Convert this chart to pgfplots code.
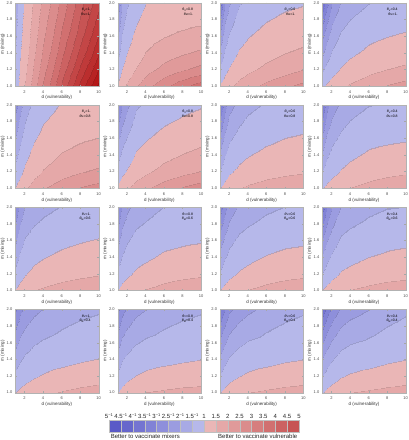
\documentclass[border=0pt]{standalone}
\usepackage{fontspec}
\setmainfont{Liberation Sans}
\usepackage{pgfplots}
\usepackage{pgfplotstable}
\pgfplotsset{compat=1.18}

% ln(ratio) on a grid d x m for the 16 panels (pij: row i = theta_M, column j = theta_V)
\pgfplotstableread{
d m p11 p12 p13 p14 p21 p22 p23 p24 p31 p32 p33 p34 p41 p42 p43 p44
1 1 -0.26 0.08 0.05 -0.09 0.00 0.09 0.00 -0.03 0.00 0.00 0.00 0.00 0.00 0.00 0.00 -0.02
1.5 1 0.14 0.30 0.22 0.07 0.20 0.26 0.15 0.10 0.15 0.13 0.13 0.13 0.10 0.13 0.13 0.11
2 1 0.43 0.46 0.34 0.18 0.36 0.38 0.26 0.19 0.26 0.23 0.22 0.22 0.17 0.22 0.21 0.20
3 1 0.84 0.68 0.51 0.33 0.55 0.54 0.39 0.32 0.39 0.35 0.34 0.34 0.27 0.34 0.34 0.33
4 1 1.12 0.84 0.61 0.45 0.67 0.66 0.46 0.41 0.45 0.42 0.41 0.41 0.34 0.42 0.41 0.41
6 1 1.53 1.06 0.76 0.60 0.83 0.82 0.55 0.52 0.55 0.52 0.51 0.49 0.44 0.47 0.47 0.47
8 1 1.82 1.22 0.88 0.71 0.93 0.94 0.61 0.61 0.61 0.60 0.59 0.56 0.51 0.51 0.52 0.52
10 1 2.04 1.34 0.98 0.80 1.00 1.03 0.65 0.68 0.66 0.65 0.64 0.60 0.56 0.53 0.55 0.56
1 1.2 -0.36 -0.27 -0.36 -0.48 -0.31 -0.28 -0.38 -0.41 -0.33 -0.33 -0.36 -0.41 -0.34 -0.34 -0.38 -0.43
1.5 1.2 0.05 0.00 -0.12 -0.30 -0.10 -0.09 -0.19 -0.22 -0.15 -0.18 -0.21 -0.24 -0.22 -0.21 -0.24 -0.28
2 1.2 0.34 0.19 0.02 -0.15 0.09 0.04 -0.05 -0.11 -0.02 -0.07 -0.10 -0.12 -0.14 -0.11 -0.14 -0.18
3 1.2 0.74 0.42 0.23 0.03 0.29 0.24 0.09 0.03 0.10 0.06 0.04 0.04 -0.04 0.01 -0.01 -0.03
4 1.2 1.03 0.59 0.33 0.14 0.43 0.36 0.18 0.12 0.17 0.14 0.11 0.10 0.03 0.08 0.06 0.04
6 1.2 1.44 0.77 0.48 0.30 0.59 0.52 0.28 0.24 0.27 0.25 0.22 0.20 0.13 0.15 0.14 0.12
8 1.2 1.72 0.89 0.59 0.40 0.68 0.63 0.34 0.31 0.33 0.31 0.29 0.26 0.20 0.20 0.21 0.19
10 1.2 1.95 0.98 0.68 0.47 0.74 0.71 0.38 0.36 0.38 0.35 0.33 0.30 0.26 0.24 0.25 0.25
1 1.4 -0.44 -0.51 -0.64 -0.75 -0.52 -0.53 -0.64 -0.67 -0.56 -0.56 -0.60 -0.68 -0.58 -0.58 -0.64 -0.70
1.5 1.4 -0.03 -0.20 -0.35 -0.55 -0.30 -0.33 -0.42 -0.44 -0.35 -0.39 -0.43 -0.49 -0.44 -0.43 -0.49 -0.54
2 1.4 0.26 0.00 -0.19 -0.37 -0.10 -0.19 -0.27 -0.31 -0.22 -0.27 -0.31 -0.35 -0.35 -0.34 -0.38 -0.43
3 1.4 0.66 0.24 0.04 -0.18 0.12 0.04 -0.11 -0.16 -0.09 -0.13 -0.16 -0.17 -0.25 -0.22 -0.25 -0.28
4 1.4 0.95 0.42 0.14 -0.07 0.26 0.15 -0.02 -0.07 -0.02 -0.06 -0.09 -0.10 -0.18 -0.15 -0.17 -0.21
6 1.4 1.36 0.57 0.29 0.09 0.43 0.31 0.09 0.06 0.08 0.06 0.02 0.00 -0.12 -0.10 -0.12 -0.15
8 1.4 1.64 0.67 0.40 0.18 0.51 0.42 0.16 0.11 0.14 0.11 0.09 0.06 -0.05 -0.05 -0.05 -0.07
10 1.4 1.87 0.74 0.47 0.25 0.57 0.50 0.20 0.15 0.19 0.15 0.12 0.10 0.01 -0.01 -0.01 -0.01
1 1.6 -0.51 -0.73 -0.88 -0.98 -0.70 -0.76 -0.87 -0.90 -0.76 -0.76 -0.82 -0.93 -0.78 -0.78 -0.87 -0.95
1.5 1.6 -0.10 -0.38 -0.55 -0.76 -0.48 -0.54 -0.63 -0.64 -0.53 -0.57 -0.63 -0.71 -0.63 -0.63 -0.71 -0.78
2 1.6 0.19 -0.16 -0.38 -0.57 -0.26 -0.39 -0.46 -0.49 -0.38 -0.44 -0.50 -0.56 -0.54 -0.54 -0.59 -0.66
3 1.6 0.59 0.09 -0.13 -0.36 -0.04 -0.14 -0.29 -0.34 -0.26 -0.30 -0.34 -0.36 -0.43 -0.42 -0.46 -0.50
4 1.6 0.88 0.27 -0.02 -0.25 0.11 -0.03 -0.19 -0.24 -0.19 -0.22 -0.27 -0.28 -0.37 -0.35 -0.38 -0.42
6 1.6 1.29 0.39 0.13 -0.09 0.28 0.12 -0.08 -0.11 -0.09 -0.11 -0.16 -0.18 -0.29 -0.28 -0.31 -0.35
8 1.6 1.57 0.47 0.23 -0.01 0.36 0.23 0.00 -0.07 -0.03 -0.06 -0.09 -0.11 -0.22 -0.22 -0.23 -0.26
10 1.6 1.80 0.53 0.29 0.05 0.41 0.31 0.04 -0.04 0.02 -0.03 -0.06 -0.08 -0.16 -0.17 -0.17 -0.17
1 1.8 -0.57 -0.92 -1.11 -1.20 -0.87 -0.96 -1.08 -1.10 -0.94 -0.95 -1.02 -1.15 -0.97 -0.97 -1.07 -1.17
1.5 1.8 -0.16 -0.54 -0.74 -0.96 -0.64 -0.74 -0.81 -0.81 -0.70 -0.74 -0.81 -0.91 -0.81 -0.82 -0.91 -0.99
2 1.8 0.13 -0.31 -0.56 -0.75 -0.41 -0.58 -0.63 -0.66 -0.54 -0.60 -0.67 -0.74 -0.71 -0.72 -0.78 -0.87
3 1.8 0.53 -0.06 -0.29 -0.52 -0.18 -0.30 -0.45 -0.49 -0.42 -0.45 -0.50 -0.52 -0.60 -0.60 -0.65 -0.70
4 1.8 0.82 0.13 -0.18 -0.41 -0.02 -0.19 -0.34 -0.39 -0.35 -0.38 -0.43 -0.45 -0.53 -0.53 -0.57 -0.62
6 1.8 1.22 0.23 -0.03 -0.25 0.15 -0.04 -0.23 -0.26 -0.25 -0.26 -0.32 -0.34 -0.43 -0.43 -0.46 -0.52
8 1.8 1.51 0.29 0.07 -0.19 0.23 0.06 -0.15 -0.24 -0.19 -0.22 -0.25 -0.27 -0.35 -0.35 -0.37 -0.41
10 1.8 1.74 0.33 0.13 -0.13 0.27 0.13 -0.10 -0.22 -0.14 -0.20 -0.23 -0.25 -0.29 -0.30 -0.30 -0.31
1 2 -0.62 -1.10 -1.32 -1.40 -1.03 -1.15 -1.28 -1.30 -1.11 -1.12 -1.20 -1.36 -1.15 -1.15 -1.27 -1.38
1.5 2 -0.22 -0.69 -0.92 -1.15 -0.79 -0.92 -0.99 -0.98 -0.85 -0.90 -0.98 -1.10 -0.97 -0.99 -1.10 -1.19
2 2 0.07 -0.45 -0.72 -0.92 -0.55 -0.75 -0.79 -0.81 -0.68 -0.75 -0.83 -0.92 -0.87 -0.89 -0.96 -1.06
3 2 0.48 -0.19 -0.43 -0.68 -0.31 -0.45 -0.60 -0.64 -0.57 -0.60 -0.66 -0.68 -0.76 -0.77 -0.83 -0.89
4 2 0.76 0.00 -0.32 -0.57 -0.15 -0.35 -0.49 -0.54 -0.49 -0.52 -0.58 -0.60 -0.69 -0.70 -0.75 -0.81
6 2 1.17 0.08 -0.17 -0.41 0.03 -0.20 -0.37 -0.41 -0.39 -0.40 -0.47 -0.49 -0.59 -0.59 -0.63 -0.70
8 2 1.46 0.12 -0.08 -0.35 0.10 -0.10 -0.29 -0.39 -0.33 -0.37 -0.40 -0.42 -0.51 -0.51 -0.53 -0.58
10 2 1.68 0.15 -0.03 -0.30 0.14 -0.03 -0.24 -0.38 -0.28 -0.35 -0.39 -0.40 -0.45 -0.45 -0.46 -0.47
}\grid

% colorbar swatches (left: 5^-1 ... right: 5)
\definecolor{cb0}{RGB}{90,90,199}
\definecolor{cb1}{RGB}{103,103,204}
\definecolor{cb2}{RGB}{116,116,209}
\definecolor{cb3}{RGB}{129,130,214}
\definecolor{cb4}{RGB}{142,143,219}
\definecolor{cb5}{RGB}{155,156,224}
\definecolor{cb6}{RGB}{168,170,229}
\definecolor{cb7}{RGB}{182,184,234}
\definecolor{cb8}{RGB}{234,182,182}
\definecolor{cb9}{RGB}{229,168,168}
\definecolor{cb10}{RGB}{224,154,154}
\definecolor{cb11}{RGB}{219,140,140}
\definecolor{cb12}{RGB}{214,126,126}
\definecolor{cb13}{RGB}{209,112,112}
\definecolor{cb14}{RGB}{204,98,98}
\definecolor{cb15}{RGB}{199,84,84}

% bands between ln(ratio) = +-ln(1.5), +-ln 2, ... (shifted by +2.2), with thin contour lines at each level
\pgfplotsset{
  colormap={ratio}{
    rgb255(0cm)=(78,78,194)
    rgb255(0.585cm)=(74,74,173) rgb255(0.597cm)=(90,90,199)
    rgb255(0.690cm)=(85,85,177) rgb255(0.702cm)=(103,103,204)
    rgb255(0.808cm)=(96,96,182) rgb255(0.820cm)=(116,116,209)
    rgb255(0.941cm)=(108,108,186) rgb255(0.953cm)=(129,130,214)
    rgb255(1.095cm)=(119,120,191) rgb255(1.107cm)=(142,143,219)
    rgb255(1.278cm)=(131,132,195) rgb255(1.290cm)=(155,156,224)
    rgb255(1.501cm)=(142,143,199) rgb255(1.513cm)=(168,170,229)
    rgb255(1.789cm)=(154,156,204) rgb255(1.801cm)=(182,184,234)
    rgb255(2.194cm)=(183,161,183) rgb255(2.206cm)=(234,182,182)
    rgb255(2.599cm)=(204,154,154) rgb255(2.611cm)=(229,168,168)
    rgb255(2.887cm)=(199,142,142) rgb255(2.899cm)=(224,154,154)
    rgb255(3.110cm)=(195,130,130) rgb255(3.122cm)=(219,140,140)
    rgb255(3.293cm)=(191,117,117) rgb255(3.305cm)=(214,126,126)
    rgb255(3.447cm)=(186,105,105) rgb255(3.459cm)=(209,112,112)
    rgb255(3.580cm)=(182,92,92) rgb255(3.592cm)=(204,98,98)
    rgb255(3.698cm)=(177,80,80) rgb255(3.710cm)=(199,84,84)
    rgb255(3.803cm)=(174,68,68) rgb255(3.815cm)=(195,70,70)
    rgb255(3.899cm)=(169,56,56) rgb255(3.911cm)=(191,58,58)
    rgb255(3.986cm)=(166,46,46) rgb255(3.998cm)=(187,46,46)
    rgb255(4.066cm)=(163,35,35) rgb255(4.078cm)=(183,35,35)
    rgb255(4.140cm)=(160,26,26) rgb255(4.152cm)=(180,24,24)
    rgb255(4.209cm)=(157,17,17) rgb255(4.221cm)=(177,14,14)
    rgb255(4.273cm)=(154,9,9) rgb255(4.285cm)=(174,5,5)
    rgb255(4.4cm)=(174,5,5)
  },
  panel/.style={
    name=ax,
    scale only axis, width=166.8pt, height=166.6pt, anchor=north west,
    xmin=1, xmax=10, ymin=1, ymax=2,
    xtick={2,4,6,8,10}, ytick={1,1.2,1.4,1.6,1.8,2},
    /pgf/number format/assume math mode=true,
    yticklabel style={/pgf/number format/fixed, /pgf/number format/fixed zerofill,
      /pgf/number format/precision=1, xshift=-2.5pt},
    xticklabel style={yshift=-5pt},
    ticklabel style={font=\fontsize{8}{9}\selectfont, text=black!70},
    axis line style={black!30}, tick style={black!35, thin},
    tick align=inside, major tick length=3pt,
    colormap name=ratio, colormap access=piecewise constant,
    point meta min=-2.2, point meta max=2.2,
    axis on top, clip=false,
  },
}

\newcommand{\panel}[5]{%
  \begin{axis}[panel, at={(#1pt,#2pt)}]
    \addplot[surf, shader=interp, mesh/cols=8, point meta=explicit]
      table[x=d, y=m, meta=#3] {\grid};
    \node[anchor=north east, align=right, inner sep=0pt,
      font=\fontsize{7}{9}\selectfont] at (rel axis cs:0.905,0.935)
      {{\itshape θ}\textsubscript{V}=#4\\{\itshape θ}\textsubscript{M}=#5};
  \end{axis}
  \node[font=\fontsize{9}{10}\selectfont, text=black!80] at ([yshift=-23.4pt]ax.south) {d (vulnerability)};
  \node[rotate=90, font=\fontsize{9}{10}\selectfont, text=black!80] at ([xshift=-25.2pt]ax.west) {m (mixing)};
}

\begin{document}
\begin{tikzpicture}
\useasboundingbox (0pt,0pt) rectangle (818pt,-880pt);
\panel{30.6}{-5.4}{p11}{1.}{1.}
\panel{235.4}{-5.4}{p12}{0.8}{1.}
\panel{440}{-5.4}{p13}{0.6}{1.}
\panel{644.6}{-5.4}{p14}{0.4}{1.}
\panel{30.6}{-209.8}{p21}{1.}{0.8}
\panel{235.4}{-209.8}{p22}{0.8}{0.8}
\panel{440}{-209.8}{p23}{0.6}{0.8}
\panel{644.6}{-209.8}{p24}{0.4}{0.8}
\panel{30.6}{-414.2}{p31}{1.}{0.6}
\panel{235.4}{-414.2}{p32}{0.8}{0.6}
\panel{440}{-414.2}{p33}{0.6}{0.6}
\panel{644.6}{-414.2}{p34}{0.4}{0.6}
\panel{30.6}{-618.6}{p41}{1.}{0.4}
\panel{235.4}{-618.6}{p42}{0.8}{0.4}
\panel{440}{-618.6}{p43}{0.6}{0.4}
\panel{644.6}{-618.6}{p44}{0.4}{0.4}

\begin{axis}[at={(218pt,-840pt)}, anchor=north west, scale only axis,
  width=380pt, height=23.4pt, xmin=0, xmax=16, ymin=0, ymax=1,
  axis line style={draw=none}, ytick=\empty,
  xtick={0,1,...,16}, xticklabel pos=upper, major tick length=0pt,
  xticklabels={5\textsuperscript{−1},4.5\textsuperscript{−1},4\textsuperscript{−1},3.5\textsuperscript{−1},3\textsuperscript{−1},2.5\textsuperscript{−1},2\textsuperscript{−1},1.5\textsuperscript{−1},1,1.5,2,2.5,3,3.5,4,4.5,5},
  xticklabel style={font=\fontsize{12}{13}\selectfont, text=black!85},
  clip=false]
\addplot[fill=cb0, draw=black!25, line width=0.3pt] coordinates {(0,1) (1,1)} \closedcycle;
\addplot[fill=cb1, draw=black!25, line width=0.3pt] coordinates {(1,1) (2,1)} \closedcycle;
\addplot[fill=cb2, draw=black!25, line width=0.3pt] coordinates {(2,1) (3,1)} \closedcycle;
\addplot[fill=cb3, draw=black!25, line width=0.3pt] coordinates {(3,1) (4,1)} \closedcycle;
\addplot[fill=cb4, draw=black!25, line width=0.3pt] coordinates {(4,1) (5,1)} \closedcycle;
\addplot[fill=cb5, draw=black!25, line width=0.3pt] coordinates {(5,1) (6,1)} \closedcycle;
\addplot[fill=cb6, draw=black!25, line width=0.3pt] coordinates {(6,1) (7,1)} \closedcycle;
\addplot[fill=cb7, draw=black!25, line width=0.3pt] coordinates {(7,1) (8,1)} \closedcycle;
\addplot[fill=cb8, draw=black!25, line width=0.3pt] coordinates {(8,1) (9,1)} \closedcycle;
\addplot[fill=cb9, draw=black!25, line width=0.3pt] coordinates {(9,1) (10,1)} \closedcycle;
\addplot[fill=cb10, draw=black!25, line width=0.3pt] coordinates {(10,1) (11,1)} \closedcycle;
\addplot[fill=cb11, draw=black!25, line width=0.3pt] coordinates {(11,1) (12,1)} \closedcycle;
\addplot[fill=cb12, draw=black!25, line width=0.3pt] coordinates {(12,1) (13,1)} \closedcycle;
\addplot[fill=cb13, draw=black!25, line width=0.3pt] coordinates {(13,1) (14,1)} \closedcycle;
\addplot[fill=cb14, draw=black!25, line width=0.3pt] coordinates {(14,1) (15,1)} \closedcycle;
\addplot[fill=cb15, draw=black!25, line width=0.3pt] coordinates {(15,1) (16,1)} \closedcycle;
\end{axis}
\node[anchor=west, font=\fontsize{12}{13}\selectfont, text=black!85] at (218pt,-873pt) {Better to vaccinate mixers};
\node[anchor=east, font=\fontsize{12}{13}\selectfont, text=black!85] at (598pt,-873pt) {Better to vaccinate vulnerable};
\end{tikzpicture}
\end{document}
